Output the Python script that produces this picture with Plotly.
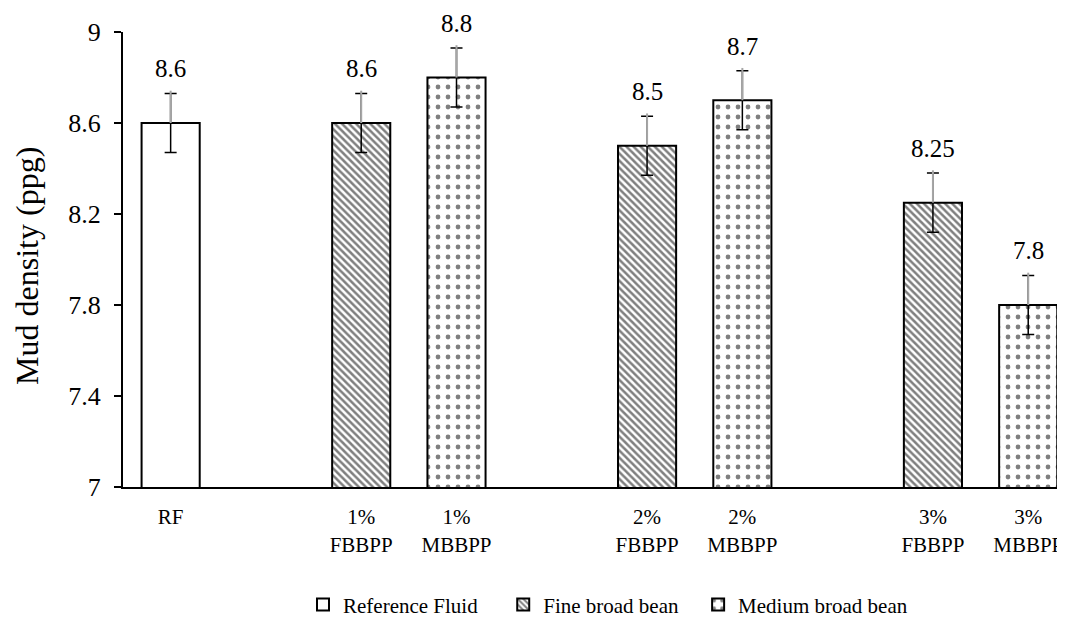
import plotly.graph_objects as go

# ---- data ----
categories = ["RF", " ", "1%<br>FBBPP", "1%<br>MBBPP", "  ", "2%<br>FBBPP", "2%<br>MBBPP", "   ", "3%<br>FBBPP", "3%<br>MBBPP"]
rf_cats = ["RF"]
rf_vals = [8.6]
fine_cats = ["1%<br>FBBPP", "2%<br>FBBPP", "3%<br>FBBPP"]
fine_vals = [8.6, 8.5, 8.25]
med_cats = ["1%<br>MBBPP", "2%<br>MBBPP", "3%<br>MBBPP"]
med_vals = [8.8, 8.7, 7.8]
err = 0.13
y_ticks = [7, 7.4, 7.8, 8.2, 8.6, 9]
y_ticktext = ["7", "7.4", "7.8", "8.2", "8.6", "9"]
y_title = "Mud density (ppg)"

FONT = "Liberation Serif, Times New Roman, serif"
BW = 0.61

fig = go.Figure()
fig.add_trace(go.Bar(x=rf_cats, y=rf_vals, name="Reference Fluid", width=BW, legend="legend",
                     marker=dict(color="white", line=dict(color="black", width=2))))
fig.add_trace(go.Bar(x=fine_cats, y=fine_vals, name="Fine broad bean", width=BW, legend="legend2",
                     marker=dict(color="white", line=dict(color="black", width=2),
                                 pattern=dict(shape="\\", fgcolor="black", bgcolor="white",
                                              size=5, solidity=0.5))))
fig.add_trace(go.Bar(x=med_cats, y=med_vals, name="Medium broad bean", width=BW, legend="legend3",
                     marker=dict(color="white", line=dict(color="black", width=2),
                                 pattern=dict(shape=".", fgcolor="black", bgcolor="white",
                                              size=10, solidity=0.18))))

all_cats = rf_cats + fine_cats + med_cats
all_vals = rf_vals + fine_vals + med_vals

# error bars: black caps & lower part, gray upper line
fig.add_trace(go.Scatter(x=all_cats, y=all_vals, mode="markers", marker=dict(size=0.1, color="rgba(0,0,0,0)"),
                         showlegend=False, hoverinfo="skip",
                         error_y=dict(type="data", symmetric=True, array=[err] * len(all_vals),
                                      color="black", thickness=1.5, width=6)))
fig.add_trace(go.Scatter(x=all_cats, y=all_vals, mode="markers", marker=dict(size=0.1, color="rgba(0,0,0,0)"),
                         showlegend=False, hoverinfo="skip",
                         error_y=dict(type="data", symmetric=False, array=[err + 0.012] * len(all_vals),
                                      arrayminus=[0] * len(all_vals),
                                      color="#a6a6a6", thickness=2, width=0)))

for c, v in zip(all_cats, all_vals):
    fig.add_annotation(x=c, y=v + err, text=f"{v:g}", showarrow=False, yanchor="bottom",
                       yshift=9, font=dict(family=FONT, size=25, color="black"))

# y-axis title
fig.add_annotation(xref="paper", yref="paper", x=-0.101, y=0.486, text=y_title, textangle=-90,
                   showarrow=False, xanchor="center", yanchor="middle",
                   font=dict(family=FONT, size=32, color="black"))

leg_common = dict(orientation="h", xref="container", yref="container", xanchor="left",
                  y=0.039, yanchor="middle", font=dict(family=FONT, size=21, color="black"),
                  bgcolor="rgba(0,0,0,0)")

fig.update_layout(
    width=1065, height=621,
    margin=dict(l=115, r=0, t=24, b=142),
    paper_bgcolor="white", plot_bgcolor="white",
    barmode="overlay",
    font=dict(family=FONT, color="black"),
    showlegend=True,
    legend=dict(x=0.277, **leg_common),
    legend2=dict(x=0.465, **leg_common),
    legend3=dict(x=0.648, **leg_common),
    xaxis=dict(type="category", categoryorder="array", categoryarray=categories,
               range=[-0.5, 9.47], showline=True, linecolor="black", linewidth=2,
               ticks="", showgrid=False, tickfont=dict(family=FONT, size=21, color="black"),
               ticklabelstandoff=10),
    yaxis=dict(range=[7, 9], tickvals=y_ticks, ticktext=y_ticktext, showline=True,
               linecolor="black", linewidth=2, ticks="outside", ticklen=7, tickwidth=2,
               tickcolor="black", showgrid=False, zeroline=False,
               tickfont=dict(family=FONT, size=26, color="black"), ticklabelstandoff=8),
)

fig.write_html("out.html")
